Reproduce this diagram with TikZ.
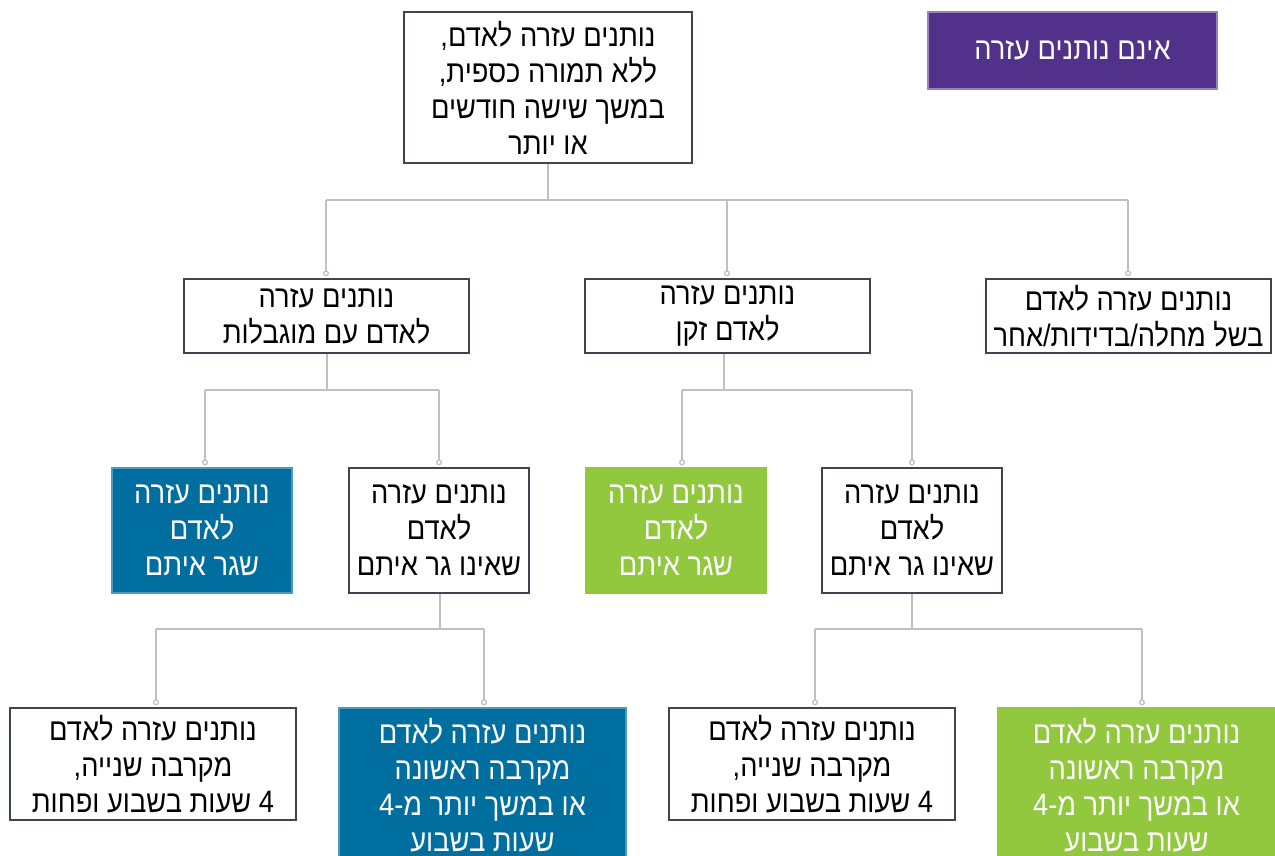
\documentclass[tikz,border=0pt]{standalone}
\usepackage{fontspec}
\setmainfont[Script=Hebrew,FakeStretch=0.88]{Liberation Sans}
\usetikzlibrary{arrows.meta}
\TeXXeTstate=1
\newcommand{\heb}[1]{\beginR #1\endR}
\definecolor{boxline}{HTML}{3C4650}
\definecolor{linkgray}{HTML}{C0C0C0}
\definecolor{helpblue}{HTML}{006FA0}
\definecolor{helpgreen}{HTML}{92C83E}
\definecolor{nohelp}{HTML}{52318A}
\tikzset{
  box/.style={draw=boxline,line width=1.2pt,fill=white,inner sep=0pt,
    align=center,font=\fontsize{31}{36}\selectfont},
  bluebox/.style={box,draw=helpblue!70!white,fill=helpblue,text=white},
  greenbox/.style={box,draw=helpgreen,fill=helpgreen,text=white},
  link/.style={draw=linkgray,line width=1.3pt},
  drop/.style={link,-{Circle[open,length=6pt,width=6pt]},shorten >=2pt}
}
\begin{document}
\begin{tikzpicture}[x=1pt,y=-1pt]
\useasboundingbox (0,0) rectangle (1275,856);
% top
\node[box,minimum width=288pt,minimum height=151pt] (top) at (548,87.5)
  {\heb{נותנים עזרה לאדם,}\\ \heb{ללא תמורה כספית,}\\
   \heb{במשך שישה חודשים}\\ \heb{או יותר}};
\node[box,draw=nohelp!60!white,fill=nohelp,text=white,
  minimum width=289pt,minimum height=77pt] (none) at (1072.5,50.5)
  {\heb{אינם נותנים עזרה}};
% second row
\node[box,minimum width=285pt,minimum height=74pt] (limit) at (326.5,316)
  {\heb{נותנים עזרה}\\ \heb{לאדם עם מוגבלות}};
\node[box,minimum width=285pt,minimum height=74pt] (old) at (727.5,316)
  {\heb{נותנים עזרה}\\ \heb{לאדם זקן}};
\node[box,minimum width=285pt,minimum height=74pt] (ill) at (1128.5,316)
  {\heb{נותנים עזרה לאדם}\\ \heb{בשל מחלה/בדידות/אחר}};
% third row
\node[bluebox,minimum width=180pt,minimum height=125pt] (limitin) at (202,530.5)
  {\heb{נותנים עזרה}\\ \heb{לאדם}\\ \heb{שגר איתם}};
\node[box,minimum width=180pt,minimum height=125pt] (limitout) at (439,530.5)
  {\heb{נותנים עזרה}\\ \heb{לאדם}\\ \heb{שאינו גר איתם}};
\node[greenbox,minimum width=180pt,minimum height=125pt] (oldin) at (676,530.5)
  {\heb{נותנים עזרה}\\ \heb{לאדם}\\ \heb{שגר איתם}};
\node[box,minimum width=180pt,minimum height=125pt] (oldout) at (912,530.5)
  {\heb{נותנים עזרה}\\ \heb{לאדם}\\ \heb{שאינו גר איתם}};
% bottom row
\node[box,minimum width=286pt,minimum height=112pt] (limitfar) at (153,764)
  {\heb{נותנים עזרה לאדם}\\ \heb{מקרבה שנייה,}\\ \heb{4 שעות בשבוע ופחות}};
\node[bluebox,minimum width=287pt,minimum height=154pt] (limitnear) at (482.5,785)
  {\heb{נותנים עזרה לאדם}\\ \heb{מקרבה ראשונה}\\
   \heb{או במשך יותר מ-4}\\ \heb{שעות בשבוע}};
\node[box,minimum width=286pt,minimum height=112pt] (oldfar) at (812,764)
  {\heb{נותנים עזרה לאדם}\\ \heb{מקרבה שנייה,}\\ \heb{4 שעות בשבוע ופחות}};
\node[greenbox,minimum width=277pt,minimum height=154pt] (oldnear) at (1136.5,785)
  {\heb{נותנים עזרה לאדם}\\ \heb{מקרבה ראשונה}\\
   \heb{או במשך יותר מ-4}\\ \heb{שעות בשבוע}};
% connectors
\draw[link] (548,0 |- top.south) -- (548,200);
\draw[link] (326,200) -- (1128,200);
\foreach \x/\c in {326/limit,727/old,1128/ill}
  \draw[drop] (\x,200) -- (\x,0 |- \c.north);
\draw[link] (327,0 |- limit.south) -- (327,390);
\draw[link] (205,390) -- (439,390);
\foreach \x/\c in {205/limitin,439/limitout}
  \draw[drop] (\x,390) -- (\x,0 |- \c.north);
\draw[link] (724,0 |- old.south) -- (724,390);
\draw[link] (682,390) -- (912,390);
\foreach \x/\c in {682/oldin,912/oldout}
  \draw[drop] (\x,390) -- (\x,0 |- \c.north);
\draw[link] (440,0 |- limitout.south) -- (440,629);
\draw[link] (156,629) -- (484,629);
\foreach \x/\c in {156/limitfar,484/limitnear}
  \draw[drop] (\x,629) -- (\x,0 |- \c.north);
\draw[link] (912,0 |- oldout.south) -- (912,629);
\draw[link] (815,629) -- (1142,629);
\foreach \x/\c in {815/oldfar,1142/oldnear}
  \draw[drop] (\x,629) -- (\x,0 |- \c.north);
\end{tikzpicture}
\end{document}
